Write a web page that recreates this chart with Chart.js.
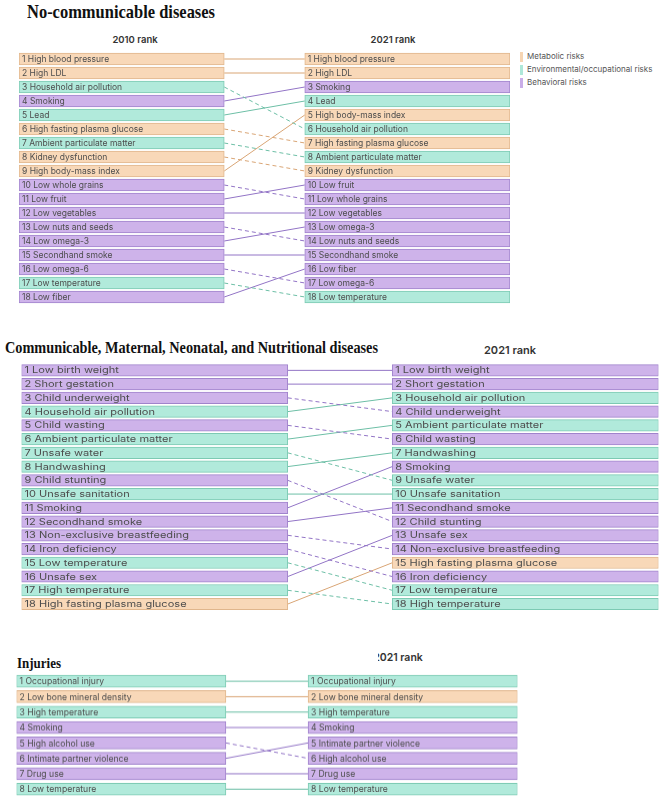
<!DOCTYPE html>
<html>
<head>
<meta charset="utf-8">
<script src="https://cdn.jsdelivr.net/npm/chart.js@4.4.1/dist/chart.umd.min.js"></script>
<style>
  body { margin: 0; background: #fff; }
  #page { position: relative; width: 669px; height: 802px; overflow: hidden; }
  .box { position: absolute; }
  .title { position: absolute; font-family: "Liberation Serif", serif; font-weight: bold; color: #111; line-height: 1; white-space: nowrap; transform-origin: 0 0; }
  .rank { position: absolute; font-family: Inter, "DejaVu Sans", sans-serif; font-weight: 600; color: #333; white-space: nowrap; transform: translate(-50%, -50%); }
  .legend { position: absolute; left: 520px; top: 50px; font-family: Inter, sans-serif; font-size: 8px; color: #555; }
  .legend div { height: 13px; line-height: 13px; position: relative; padding-left: 7px; white-space: nowrap; }
  .legend span { position: absolute; left: 0; top: 1.5px; width: 2.5px; height: 10px; }
</style>
</head>
<body>
<div id="page">
  <div class="title" style="left:27px; top:1.7px; font-size:19px" data-w="188">No-communicable diseases</div>
  <div class="rank" style="left:135px; top:39px; font-size:9.5px">2010 rank</div>
  <div class="rank" style="left:393px; top:39px; font-size:9.5px">2021 rank</div>
  <div class="legend">
    <div><span style="background:#f6d5b3"></span>Metabolic risks</div>
    <div><span style="background:#aee8d9"></span>Environmental/occupational risks</div>
    <div><span style="background:#c9aee8"></span>Behavioral risks</div>
  </div>
  <div class="box" style="left:19px; top:52px; width:491px; height:252px"><canvas id="ncd"></canvas></div>

  <div class="title" style="left:5px; top:340.2px; font-size:16px" data-w="373">Communicable, Maternal, Neonatal, and Nutritional diseases</div>
  <div class="rank" style="left:510px; top:350px; font-size:11px">2021 rank</div>
  <div class="box" style="left:21px; top:362.6px; width:638px; height:248.4px"><canvas id="cmnn"></canvas></div>

  <div class="title" style="left:17px; top:655.3px; font-size:15.5px" data-w="44">Injuries</div>
  <div style="position:absolute; left:378px; top:648px; width:60px; height:18px; overflow:hidden">
    <div class="rank" style="left:20px; top:9px; font-size:10.5px">2021 rank</div>
  </div>
  <div class="box" style="left:16px; top:673.3px; width:502px; height:123.4px"><canvas id="inj"></canvas></div>
</div>

<script>
// risk factor ranks, listed from rank 1 downwards
const ncdRank2010 = ["High blood pressure", "High LDL", "Household air pollution", "Smoking", "Lead",
  "High fasting plasma glucose", "Ambient particulate matter", "Kidney dysfunction", "High body-mass index",
  "Low whole grains", "Low fruit", "Low vegetables", "Low nuts and seeds", "Low omega-3",
  "Secondhand smoke", "Low omega-6", "Low temperature", "Low fiber"];
const ncdRank2021 = ["High blood pressure", "High LDL", "Smoking", "Lead", "High body-mass index",
  "Household air pollution", "High fasting plasma glucose", "Ambient particulate matter", "Kidney dysfunction",
  "Low fruit", "Low whole grains", "Low vegetables", "Low omega-3", "Low nuts and seeds",
  "Secondhand smoke", "Low fiber", "Low omega-6", "Low temperature"];

const cmnnRank2010 = ["Low birth weight", "Short gestation", "Child underweight", "Household air pollution",
  "Child wasting", "Ambient particulate matter", "Unsafe water", "Handwashing", "Child stunting",
  "Unsafe sanitation", "Smoking", "Secondhand smoke", "Non-exclusive breastfeeding", "Iron deficiency",
  "Low temperature", "Unsafe sex", "High temperature", "High fasting plasma glucose"];
const cmnnRank2021 = ["Low birth weight", "Short gestation", "Household air pollution", "Child underweight",
  "Ambient particulate matter", "Child wasting", "Handwashing", "Smoking", "Unsafe water",
  "Unsafe sanitation", "Secondhand smoke", "Child stunting", "Unsafe sex", "Non-exclusive breastfeeding",
  "High fasting plasma glucose", "Iron deficiency", "Low temperature", "High temperature"];

const injRank2010 = ["Occupational injury", "Low bone mineral density", "High temperature", "Smoking",
  "High alcohol use", "Intimate partner violence", "Drug use", "Low temperature"];
const injRank2021 = ["Occupational injury", "Low bone mineral density", "High temperature", "Smoking",
  "Intimate partner violence", "High alcohol use", "Drug use", "Low temperature"];

// risk groups (anything not listed is behavioral)
const metabolicRisks = ["High blood pressure", "High LDL", "High fasting plasma glucose",
  "Kidney dysfunction", "High body-mass index", "Low bone mineral density"];
const environmentalRisks = ["Household air pollution", "Lead", "Ambient particulate matter",
  "Low temperature", "High temperature", "Unsafe water", "Handwashing", "Unsafe sanitation",
  "Occupational injury"];

const colors = {
  metabolic:     { fill: "#f8d8b8", border: "#e0b68c", line: "#d9a575" },
  environmental: { fill: "#b1eadb", border: "#7ccab3", line: "#6dbfa6" },
  behavioral:    { fill: "#ceb3ea", border: "#a083cc", line: "#9274c6" }
};

function groupOf(risk) {
  if (metabolicRisks.includes(risk)) return colors.metabolic;
  if (environmentalRisks.includes(risk)) return colors.environmental;
  return colors.behavioral;
}

// x extents of the two columns (percent of chart width)
const leftCol = [0, 41.8];
const rightCol = [58.2, 100];

const boxLabels = {
  id: "boxLabels",
  afterDatasetsDraw(chart) {
    const ctx = chart.ctx;
    const opts = chart.options.plugins.boxLabels;
    ctx.save();
    ctx.font = opts.fontSize + "px Inter, sans-serif";
    ctx.fillStyle = "#4d4d4d";
    ctx.textBaseline = "middle";
    chart.data.datasets.forEach((ds, i) => {
      if (!ds.names) return;
      chart.getDatasetMeta(i).data.forEach((bar, j) => {
        const x = Math.min(bar.base, bar.x) + 3;
        ctx.save();
        ctx.translate(x, bar.y + 0.5);
        ctx.scale(opts.stretch, 1);
        ctx.fillText((j + 1) + " " + ds.names[j], 0, 0);
        ctx.restore();
      });
    });
    ctx.restore();
  }
};

function makeChart(id, rank2010, rank2021, thickness, fontSize, stretch) {
  const boxSet = (names, col) => ({
    type: "bar",
    indexAxis: "y",
    grouped: false,
    names: names,
    data: names.map((n, i) => ({ x: col, y: i + 1 })),
    backgroundColor: names.map(n => groupOf(n).fill),
    borderColor: names.map(n => groupOf(n).border),
    borderWidth: 1,
    borderSkipped: false,
    barThickness: thickness,
    order: 1
  });

  const links = rank2010.map((name, i) => {
    const to = rank2021.indexOf(name) + 1;
    return {
      type: "line",
      data: [{ x: leftCol[1], y: i + 1 }, { x: rightCol[0], y: to }],
      borderColor: groupOf(name).line,
      borderWidth: 1,
      borderDash: to > i + 1 ? [4, 3] : [],
      pointRadius: 0,
      order: 2
    };
  });

  new Chart(document.getElementById(id), {
    type: "bar",
    data: { datasets: [boxSet(rank2010, leftCol), boxSet(rank2021, rightCol)].concat(links) },
    options: {
      responsive: true,
      maintainAspectRatio: false,
      animation: false,
      layout: { padding: 0 },
      scales: {
        x: { type: "linear", min: 0, max: 100, offset: false, display: false },
        y: { type: "linear", min: 0.5, max: rank2010.length + 0.5, offset: false, reverse: true, display: false }
      },
      plugins: {
        legend: { display: false },
        tooltip: { enabled: false },
        boxLabels: { fontSize: fontSize, stretch: stretch }
      }
    },
    plugins: [boxLabels]
  });
}

makeChart("ncd", ncdRank2010, ncdRank2021, 12, 8.5, 1);
makeChart("cmnn", cmnnRank2010, cmnnRank2021, 11.5, 8.5, 1.3);
makeChart("inj", injRank2010, injRank2021, 12, 8.9, 0.97);

// squeeze the serif headings to the width they have in the picture
document.querySelectorAll(".title").forEach(el => {
  const w = el.getBoundingClientRect().width;
  el.style.transform = "scaleX(" + (el.dataset.w / w) + ")";
});
</script>
</body>
</html>
